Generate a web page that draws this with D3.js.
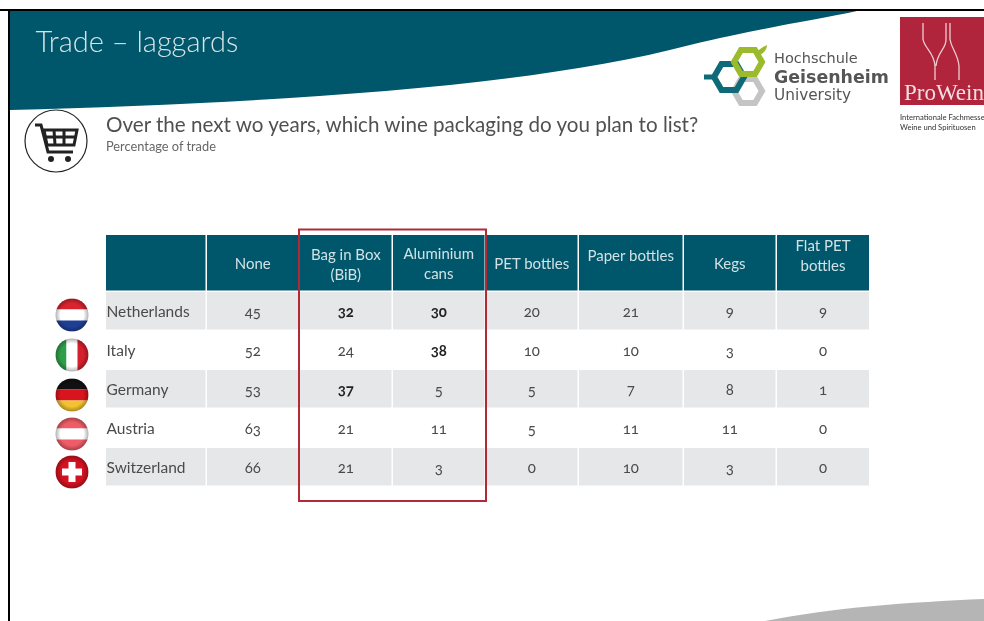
<!DOCTYPE html>
<html>
<head>
<meta charset="utf-8">
<script src="https://cdn.jsdelivr.net/npm/d3@7"></script>
<style>
  body { margin: 0; background: #fff; }
  svg { filter: blur(0.35px); }
  text { font-family: Lato, "Open Sans", sans-serif; font-variant-numeric: oldstyle-nums; }
</style>
</head>
<body>
<script>
const w = 984;
const h = 621;

// data
const countries = ["Netherlands", "Italy", "Germany", "Austria", "Switzerland"];
const packaging = ["None", "Bag in Box (BiB)", "Aluminium cans", "PET bottles", "Paper bottles", "Kegs", "Flat PET bottles"];
const none = [45, 52, 53, 63, 66];
const bagInBox = [32, 24, 37, 21, 21];
const aluminium = [30, 38, 5, 11, 3];
const petBottles = [20, 10, 5, 5, 0];
const paperBottles = [21, 10, 7, 11, 10];
const kegs = [9, 3, 8, 11, 3];
const flatPet = [9, 0, 1, 0, 0];
const seriesValues = [none, bagInBox, aluminium, petBottles, paperBottles, kegs, flatPet];
const headerLines = [["None"], ["Bag in Box", "(BiB)"], ["Aluminium", "cans"], ["PET bottles"], ["Paper bottles"], ["Kegs"], ["Flat PET", "bottles"]];
const boldCells = ["Netherlands|Bag in Box (BiB)", "Netherlands|Aluminium cans", "Italy|Aluminium cans", "Germany|Bag in Box (BiB)"];

// layout
const colEdges = [207, 300, 393, 486, 579, 684, 777];
const colWidths = [93, 93, 93, 93, 105, 93, 93.5];
const headerY = [264, 255, 254, 264, 256, 264, 246];
const teal = "#00566a";
const textCol = "#4a4a4a";

const svg = d3.select("body").append("svg").attr("width", w).attr("height", h).style("display", "block");
const defs = svg.append("defs");

const xScale = d3.scaleOrdinal().domain(packaging).range(colEdges);
const widthScale = d3.scaleOrdinal().domain(packaging).range(colWidths);
const yScale = d3.scaleBand().domain(countries).range([292, 487]);

// banner
svg.append("path")
   .attr("d", "M10,110 C250,103 520,90 690,45 C760,28 815,20 857,11 L10,11 Z")
   .attr("fill", teal);
svg.append("path")
   .attr("d", "M765,621 C830,608 910,602 984,599 L984,621 Z")
   .attr("fill", "#b5b5b5");
svg.append("rect").attr("x", 0).attr("y", 9).attr("width", w).attr("height", 2).attr("fill", "#000");
svg.append("rect").attr("x", 8).attr("y", 9).attr("width", 2).attr("height", h - 9).attr("fill", "#000");

svg.append("text").text("Trade – laggards")
   .attr("x", 35.5).attr("y", 52).attr("font-size", 29).attr("font-weight", 300).attr("fill", "#d5e4e7");
svg.append("text").text("Over the next wo years, which wine packaging do you plan to list?")
   .attr("x", 106).attr("y", 132).attr("font-size", 20.6).attr("fill", "#505050");
svg.append("text").text("Percentage of trade")
   .attr("x", 106).attr("y", 151).attr("font-size", 12.8).attr("fill", "#666");

// cart icon
const cart = svg.append("g").attr("transform", "translate(56,141)");
cart.append("circle").attr("r", 31).attr("fill", "#fff").attr("stroke", "#222").attr("stroke-width", 1.2);
cart.append("path")
    .attr("d", "M-21,-16 L-15,-16 L-8,11 L17,11")
    .attr("fill", "none").attr("stroke", "#222").attr("stroke-width", 3);
cart.append("path")
    .attr("d", "M-12,-11 L21,-11 L18,4 L-9,4 Z M-11,-4 L20,-4 M-2,-11 L-1,4 M8,-11 L8,4")
    .attr("fill", "none").attr("stroke", "#222").attr("stroke-width", 3);
cart.selectAll(".wheel").data([-5, 12]).enter().append("circle")
    .attr("cx", d => d).attr("cy", 18).attr("r", 3).attr("fill", "#222");

// Hochschule logo
const hexPath = (cx, cy, r) => d3.line()(d3.range(6).map(i => [cx + r * Math.cos(i * Math.PI / 3), cy + r * Math.sin(i * Math.PI / 3)])) + "Z";
svg.append("path").attr("d", hexPath(748, 91, 14)).attr("fill", "none").attr("stroke", "#c4c4c4").attr("stroke-width", 6);
svg.append("path").attr("d", hexPath(729, 77, 15)).attr("fill", "none").attr("stroke", "#0e6a78").attr("stroke-width", 6);
svg.append("path").attr("d", hexPath(748, 62, 14)).attr("fill", "none").attr("stroke", "#9bbb2c").attr("stroke-width", 6);
svg.append("rect").attr("x", 704).attr("y", 74.5).attr("width", 9).attr("height", 5).attr("fill", "#0e6a78");
svg.append("path").attr("d", "M757,52 C760,48 765,46 767,45 C767,50 763,54 759,55 Z").attr("fill", "#9bbb2c");
const logoText = [["Hochschule", 63, 14.5, 400], ["Geisenheim", 83, 17.4, 700], ["University", 100, 15.3, 400]];
svg.selectAll(".logo").data(logoText).enter().append("text")
   .text(d => d[0]).attr("x", 774).attr("y", d => d[1])
   .attr("font-size", d => d[2]).attr("font-weight", d => d[3])
   .attr("fill", "#555").style("font-family", "'DejaVu Sans', sans-serif");

// ProWein logo
svg.append("rect").attr("x", 900).attr("y", 17).attr("width", 84).attr("height", 88).attr("fill", "#b0243c");
svg.append("path")
   .attr("d", "M923,23 L923,39 C924,48 934,52 935,66 L935,80 M946,23 L946,39 C947,48 937,52 936,66 M950,23 L950,39 C951,48 958,54 959,66 L959,80")
   .attr("fill", "none").attr("stroke", "#eecdd2").attr("stroke-width", 1.3);
svg.append("text").text("ProWein").attr("x", 904).attr("y", 100)
   .attr("font-size", 23).attr("fill", "#f3dfe2").style("font-family", "'Liberation Serif', serif");
svg.selectAll(".small").data([["Internationale Fachmesse", 120], ["Weine und Spirituosen", 130]]).enter().append("text")
   .text(d => d[0]).attr("x", 900).attr("y", d => d[1]).attr("font-size", 7.6).attr("fill", "#333");

// table header
svg.append("rect").attr("x", 106).attr("y", 235).attr("width", 99.5).attr("height", 55.5).attr("fill", teal);
svg.selectAll(".head").data(packaging).enter().append("rect")
   .attr("x", d => xScale(d)).attr("y", 235)
   .attr("width", d => widthScale(d) - 1.5).attr("height", 55.5).attr("fill", teal);

headerLines.forEach((lines, i) => {
    svg.selectAll(".hl" + i).data(lines).enter().append("text")
       .text(d => d)
       .attr("x", xScale(packaging[i]) + (widthScale(packaging[i]) - 1.5) / 2)
       .attr("y", (d, j) => headerY[i] + 5 + j * 20)
       .attr("text-anchor", "middle").attr("font-size", 15).attr("fill", "#cfe2e5");
});

// table rows
const rows = svg.selectAll(".row").data(countries).enter().append("g");
rows.filter((d, i) => i % 2 === 0).each(function(c) {
    const g = d3.select(this);
    g.append("rect").attr("x", 106).attr("y", yScale(c)).attr("width", 99.5).attr("height", yScale.bandwidth() - 1.5).attr("fill", "#e6e7e8");
    g.selectAll("rect.cell").data(packaging).enter().append("rect").attr("class", "cell")
     .attr("x", d => xScale(d)).attr("y", yScale(c))
     .attr("width", d => widthScale(d) - 1.5).attr("height", yScale.bandwidth() - 1.5).attr("fill", "#e6e7e8");
});
rows.append("text").text(d => d)
    .attr("x", 106.5).attr("y", d => yScale(d) + yScale.bandwidth() / 2 + 5)
    .attr("font-size", 15.5).attr("fill", textCol);

packaging.forEach((p, i) => {
    svg.selectAll(".v" + i).data(seriesValues[i]).enter().append("text")
       .text(d => d)
       .attr("x", xScale(p) + (widthScale(p) - 1.5) / 2)
       .attr("y", (d, r) => yScale(countries[r]) + yScale.bandwidth() / 2 + 5.5)
       .attr("text-anchor", "middle").attr("font-size", 15)
       .attr("font-weight", (d, r) => boldCells.includes(countries[r] + "|" + p) ? 700 : 400)
       .attr("fill", (d, r) => boldCells.includes(countries[r] + "|" + p) ? "#222" : textCol);
});

// red box
svg.append("rect").attr("x", 299).attr("y", 229.5).attr("width", 187).attr("height", 271.5)
   .attr("fill", "none").attr("stroke", "#b02a37").attr("stroke-width", 2);

// flags
const flagCy = [315, 355, 395, 434, 472];
const flagStripes = [
    {dir: "h", colors: ["#d9232e", "#ffffff", "#1f3f95"]},
    {dir: "v", colors: ["#2f9e4a", "#ffffff", "#d4202c"]},
    {dir: "h", colors: ["#111111", "#d8141e", "#f2c230"]},
    {dir: "h", colors: ["#ee5c66", "#ffffff", "#ee5c66"]},
    {dir: "h", colors: ["#d2121f"]}
];
const shine = defs.append("radialGradient").attr("id", "shine").attr("cx", "50%").attr("cy", "50%").attr("r", "50%");
shine.append("stop").attr("offset", "70%").attr("stop-color", "#000").attr("stop-opacity", 0);
shine.append("stop").attr("offset", "100%").attr("stop-color", "#000").attr("stop-opacity", 0.3);
const flagR = 16.5;
countries.forEach((c, i) => {
    const cy = flagCy[i];
    const s = flagStripes[i];
    defs.append("clipPath").attr("id", "flag" + i).append("circle").attr("cx", 72).attr("cy", cy).attr("r", flagR);
    const g = svg.append("g").attr("clip-path", "url(#flag" + i + ")");
    const band = d3.scaleBand().domain(d3.range(s.colors.length)).range(s.dir === "h" ? [cy - flagR, cy + flagR] : [72 - flagR, 72 + flagR]);
    s.colors.forEach((col, k) => {
        if (s.dir === "h") {
            g.append("rect").attr("x", 72 - flagR).attr("y", band(k)).attr("width", flagR * 2).attr("height", band.bandwidth()).attr("fill", col);
        } else {
            g.append("rect").attr("x", band(k)).attr("y", cy - flagR).attr("width", band.bandwidth()).attr("height", flagR * 2).attr("fill", col);
        }
    });
    if (c === "Switzerland") {
        g.append("rect").attr("x", 72 - 10).attr("y", cy - 3.5).attr("width", 20).attr("height", 7).attr("fill", "#fff");
        g.append("rect").attr("x", 72 - 3.5).attr("y", cy - 10).attr("width", 7).attr("height", 20).attr("fill", "#fff");
    }
    svg.append("circle").attr("cx", 72).attr("cy", cy).attr("r", flagR).attr("fill", "url(#shine)");
});
</script>
</body>
</html>
